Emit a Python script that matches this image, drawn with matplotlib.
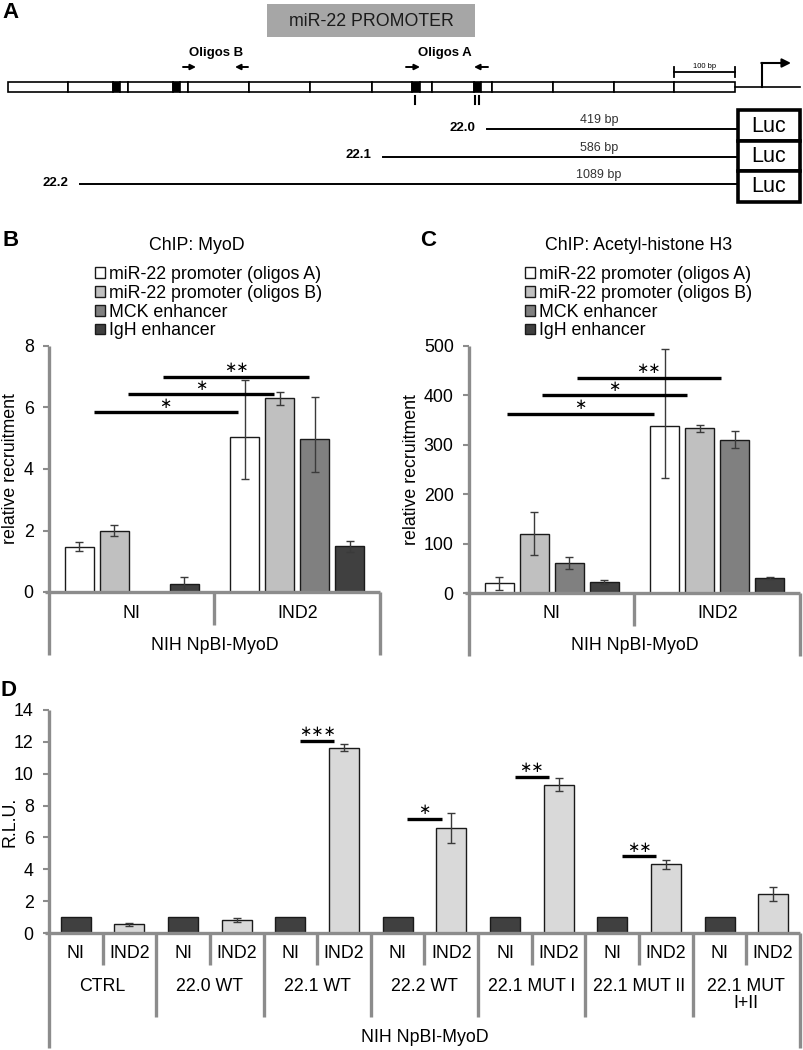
import numpy as np
import matplotlib
matplotlib.use("Agg")
import matplotlib.pyplot as plt
from matplotlib.patches import Rectangle

plt.rcParams["font.family"] = ["Liberation Sans", "DejaVu Sans"]

# Data

chip_groups = ["NI", "IND2"]
chip_series = ["miR-22 promoter (oligos A)", "miR-22 promoter (oligos B)",
               "MCK enhancer", "IgH enhancer"]

# ChIP MyoD (panel B)
myod_ni            = [1.47, 2.0, 0.0, 0.25]
myod_ni_err        = [0.14, 0.19, np.nan, 0.23]
myod_ind2          = [5.03, 6.3, 4.98, 1.48]
myod_ind2_err_lo   = [1.36, 0.22, 1.07, 0.17]
myod_ind2_err_hi   = [1.85, 0.2, 1.35, 0.19]
myod_sig_x0        = [-0.23, -0.02, 0.19]
myod_sig_x1        = [0.64, 0.86, 1.07]
myod_sig_y         = [5.85, 6.43, 7.0]
myod_sig_txt       = ["∗", "∗", "∗∗"]

# ChIP acetyl-histone H3 (panel C)
acetyl_ni          = [20, 120, 60, 23]
acetyl_ni_err      = [13, 43, 12, 4]
acetyl_ind2        = [338, 333, 310, 30]
acetyl_ind2_err_lo = [106, 8, 17, 2]
acetyl_ind2_err_hi = [155, 8, 17, 2]
acetyl_sig_x0      = [-0.27, -0.06, 0.15]
acetyl_sig_x1      = [0.62, 0.82, 1.02]
acetyl_sig_y       = [363, 400, 436]
acetyl_sig_txt     = ["∗", "∗", "∗∗"]

# Luciferase (panel D)
luc_constructs = ["CTRL", "22.0 WT", "22.1 WT", "22.2 WT",
                  "22.1 MUT I", "22.1 MUT II", "22.1 MUT\nI+II"]
luc_sub        = ["NI", "IND2"]
luc_ni         = [1, 1, 1, 1, 1, 1, 1]
luc_ind2       = [0.54, 0.82, 11.62, 6.57, 9.31, 4.32, 2.43]
luc_ind2_err   = [0.07, 0.14, 0.22, 0.95, 0.42, 0.28, 0.43]
luc_sig_group  = [2, 3, 4, 5]
luc_sig_y      = [12.06, 7.17, 9.81, 4.81]
luc_sig_txt    = ["∗∗∗", "∗", "∗∗", "∗∗"]

# Panel A diagram (pixel layout)
seg_edges   = [8, 68, 113, 120, 128, 173, 180, 188, 249, 310, 372, 412, 420,
               432, 474, 481, 492, 553, 614, 674, 735]
seg_black   = [(113, 120), (173, 180), (412, 420), (474, 481)]
constructs      = ["22.0", "22.1", "22.2"]
construct_bp    = ["419 bp", "586 bp", "1089 bp"]
construct_start = [487, 383, 80]

W, H = 804, 1050
GRAY = "#8c8c8c"
FS = 12.8

fig = plt.figure(figsize=(W / 100, H / 100), dpi=100)


def px_axes(l, t, r, b):
    return fig.add_axes([l / W, 1 - b / H, (r - l) / W, (b - t) / H])


def frame(ax, x0, x1, ext_outer, dividers):
    # excel-style gray axis lines that run below the plot area
    hpx = ax.bbox.height
    tr = ax.get_xaxis_transform()
    kw = dict(color=GRAY, lw=2.4, solid_capstyle="butt", clip_on=False,
              transform=tr, zorder=5)
    ax.plot([x0, x0], [1, -ext_outer / hpx], **kw)
    ax.plot([x1, x1], [0, -ext_outer / hpx], **kw)
    dx = 4 / ax.bbox.width * (x1 - x0)
    ax.plot([x0 - dx, x1], [0, 0], **kw)
    for xd, ln in dividers:
        ax.plot([xd, xd], [0, -ln / hpx], **kw)
    for s in ax.spines.values():
        s.set_visible(False)
    ax.tick_params(axis="y", length=4, width=1.5, color=GRAY, labelsize=FS, pad=7)
    ax.tick_params(axis="x", length=0, labelsize=FS, pad=9)


def stars(ax, x0, x1, y, txt):
    ax.plot([x0, x1], [y, y], color="black", lw=2.4, solid_capstyle="butt",
            clip_on=False, zorder=6)
    ax.annotate(txt, xy=((x0 + x1) / 2, y), xytext=(0, 6.5),
                textcoords="offset points", ha="center", va="center",
                fontsize=10.5, family="DejaVu Sans", annotation_clip=False)


chip_colors = ["white", "#c0c0c0", "#808080", "#404040"]


def chip_panel(ax, ni, ind2, lo, hi, ymax, ystep, sx0, sx1, sy, stxt,
               title, title_x, leg_x, ylab_x):
    vals = np.array([ni, ind2], dtype=float)
    elo = np.array(lo, dtype=float)
    ehi = np.array(hi, dtype=float)
    x = np.arange(len(chip_groups))
    offs = (np.arange(len(chip_series)) - 1.5) * 0.211
    for i, name in enumerate(chip_series):
        ax.bar(x + offs[i], vals[:, i], width=0.176, color=chip_colors[i],
               edgecolor="#1a1a1a", lw=1.0, label=name, zorder=2)
        ax.errorbar(x + offs[i], vals[:, i], yerr=[elo[:, i], ehi[:, i]],
                    fmt="none", ecolor="#3a3a3a", elinewidth=1.0, capsize=3.2,
                    capthick=1.0, zorder=3)
    ax.set_xlim(-0.5, 1.5)
    ax.set_ylim(0, ymax)
    ax.set_yticks(np.arange(0, ymax + 1, ystep))
    ax.set_xticks(x, chip_groups)
    frame(ax, -0.5, 1.5, 63, [(0.5, 33)])
    for a, b, c, t in zip(sx0, sx1, sy, stxt):
        stars(ax, a, b, c, t)
    hpx = ax.bbox.height
    ax.text(0.5, -53 / hpx, "NIH NpBI-MyoD", transform=ax.transAxes,
            ha="center", va="center", fontsize=FS)
    ax.set_ylabel("relative recruitment", fontsize=FS)
    ax.yaxis.set_label_coords(ylab_x, 0.5)
    fig.text(title_x / W, 1 - 245 / H, title, ha="center", va="center", fontsize=FS)
    ax.legend(loc="upper left", bbox_to_anchor=(leg_x / W, 1 - 266 / H),
              bbox_transform=fig.transFigure, frameon=False, fontsize=FS,
              handlelength=0.55, handleheight=0.55, handletextpad=0.25,
              labelspacing=0.1, borderpad=0, borderaxespad=0)


# Panel B
axB = px_axes(49, 346, 380, 592)
chip_panel(axB, myod_ni, myod_ind2, [myod_ni_err, myod_ind2_err_lo],
           [myod_ni_err, myod_ind2_err_hi], 8, 2, myod_sig_x0, myod_sig_x1,
           myod_sig_y, myod_sig_txt, "ChIP: MyoD", 197, 95, -0.092)

# Panel C
axC = px_axes(469, 346, 800, 593)
chip_panel(axC, acetyl_ni, acetyl_ind2, [acetyl_ni_err, acetyl_ind2_err_lo],
           [acetyl_ni_err, acetyl_ind2_err_hi], 500, 100, acetyl_sig_x0,
           acetyl_sig_x1, acetyl_sig_y, acetyl_sig_txt,
           "ChIP: Acetyl-histone H3", 639, 525, -0.148)

# Panel D
axD = px_axes(49, 710, 800, 933)
g = np.arange(len(luc_constructs))
axD.bar(2 * g, luc_ni, width=0.56, color="#404040", edgecolor="#1a1a1a",
        lw=1.0, zorder=2)
axD.bar(2 * g + 1, luc_ind2, width=0.56, color="#d9d9d9", edgecolor="#1a1a1a",
        lw=1.0, zorder=2)
axD.errorbar(2 * g + 1, luc_ind2, yerr=luc_ind2_err, fmt="none", ecolor="#3a3a3a",
             elinewidth=1.0, capsize=3.2, capthick=1.0, zorder=3)
n_sub = 2 * len(luc_constructs)
axD.set_xlim(-0.5, n_sub - 0.5)
axD.set_ylim(0, 14)
axD.set_yticks(np.arange(0, 15, 2))
axD.set_xticks(np.arange(n_sub), luc_sub * len(luc_constructs))
divs = [(2 * k + 0.5, 32) for k in g] + [(2 * k + 1.5, 84) for k in g[:-1]]
frame(axD, -0.5, n_sub - 0.5, 115, divs)
hD = axD.bbox.height
trD = axD.get_xaxis_transform()
for k, name in enumerate(luc_constructs):
    axD.text(2 * k + 0.5, -45 / hD, name, transform=trD, ha="center", va="top",
             fontsize=FS, linespacing=1.0)
axD.text(0.5, -105 / hD, "NIH NpBI-MyoD", transform=axD.transAxes,
         ha="center", va="center", fontsize=FS)
for k, y, t in zip(luc_sig_group, luc_sig_y, luc_sig_txt):
    stars(axD, 2 * k + 0.18, 2 * k + 0.82, y, t)
axD.set_ylabel("R.L.U.", fontsize=FS)
axD.yaxis.set_label_coords(-0.04, 0.5)

# Panel A + panel letters, drawn in pixel space
ov = fig.add_axes([0, 0, 1, 1], zorder=10)
ov.set_xlim(0, W)
ov.set_ylim(H, 0)
ov.axis("off")

ov.add_patch(Rectangle((267, 4), 208, 33, facecolor="#a6a6a6", edgecolor="none"))
ov.text(371, 21, "miR-22 PROMOTER", ha="center", va="center", fontsize=12.8,
        color="#1a1a1a")

for a, b in zip(seg_edges[:-1], seg_edges[1:]):
    fc = "black" if (a, b) in seg_black else "white"
    ov.add_patch(Rectangle((a, 82), b - a, 10, facecolor=fc, edgecolor="black", lw=1.2))
ov.plot([735, 800], [87, 87], color="black", lw=1.2)
ov.plot([762, 762], [87, 63], color="black", lw=1.5)
ov.annotate("", xy=(791, 63), xytext=(761.3, 63),
            arrowprops=dict(arrowstyle="-|>", lw=1.5, color="black", mutation_scale=13,
                            shrinkA=0, shrinkB=0))

# scale bar
ov.plot([674, 735], [72, 72], color="black", lw=1.3)
ov.plot([674, 674], [67, 77], color="black", lw=1.3)
ov.plot([735, 735], [67, 77], color="black", lw=1.3)
ov.text(704.5, 66, "100 bp", ha="center", va="center", fontsize=5.5)

# oligo primers
for label, xc, pairs in [("Oligos B", 216, [(183, 196), (248, 235)]),
                         ("Oligos A", 445, [(406, 420), (488, 474)])]:
    ov.text(xc, 53, label, ha="center", va="center", fontsize=9.5, fontweight="bold")
    for xs, xe in pairs:
        ov.annotate("", xy=(xe, 67), xytext=(xs, 67),
                    arrowprops=dict(arrowstyle="-|>", lw=1.4, color="black",
                                    mutation_scale=8, shrinkA=0, shrinkB=0))
ov.plot([415, 415], [96, 104], color="black", lw=1.5)
ov.plot([475, 475], [96, 104], color="black", lw=1.5)
ov.plot([479, 479], [96, 104], color="black", lw=1.5)

# reporter constructs
for k, (name, bp, xs) in enumerate(zip(constructs, construct_bp, construct_start)):
    y = 129 + 27.5 * k
    ov.plot([xs, 736], [y, y], color="black", lw=1.4)
    ov.text(xs - 12, y - 1, name, ha="right", va="center", fontsize=9.5,
            fontweight="bold")
    ov.text(599, y - 9, bp, ha="center", va="center", fontsize=9, color="#333333")
    ov.add_patch(Rectangle((738, 110 + 30.5 * k), 62, 30.5, facecolor="white",
                           edgecolor="black", lw=2.6))
    ov.text(769, 126 + 30.5 * k, "Luc", ha="center", va="center", fontsize=15.5)

for letter, x, y in [("A", 2, 13), ("B", 3, 240), ("C", 420, 240), ("D", 0, 691)]:
    ov.text(x, y, letter, ha="left", va="center", fontsize=16, fontweight="bold")

plt.savefig("out.png", dpi=100)
